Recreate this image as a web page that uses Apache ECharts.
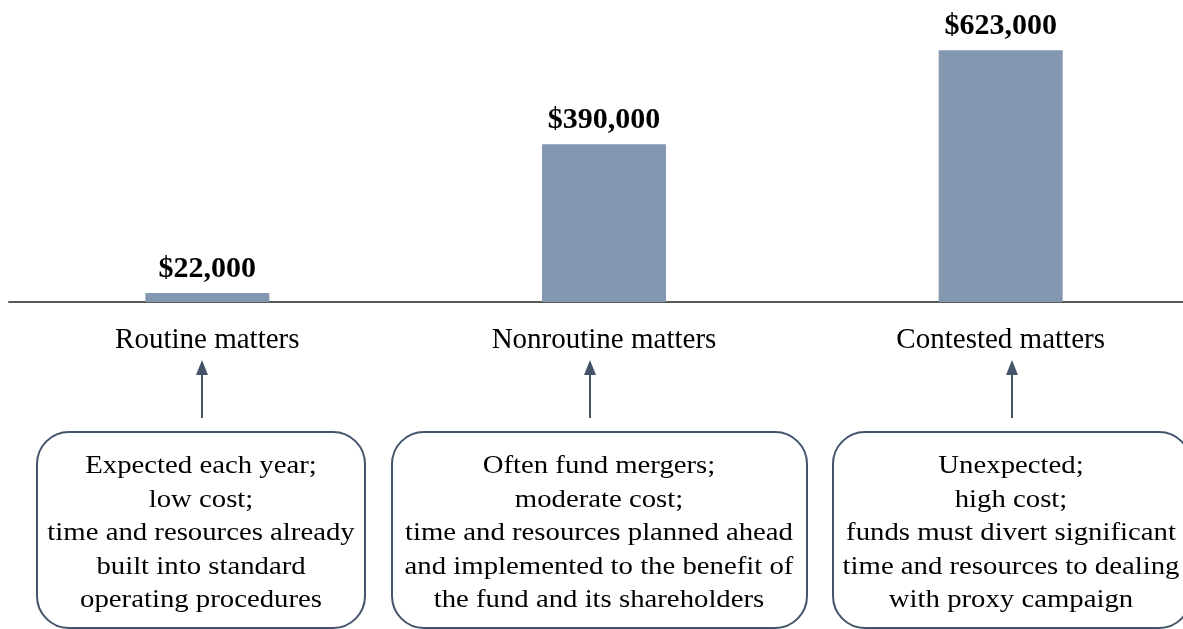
<!DOCTYPE html>
<html>
<head>
<meta charset="utf-8">
<script src="https://cdn.jsdelivr.net/npm/echarts@6/dist/echarts.min.js"></script>
<style>
html,body{margin:0;padding:0;background:#fff;overflow:hidden;}
#main{width:1200px;height:629px;}
</style>
</head>
<body>
<div id="main"></div>
<script>
const categories = ['Routine matters', 'Nonroutine matters', 'Contested matters'];
const costs = [22000, 390000, 623000];
const notes = [
  'Expected each year;\nlow cost;\ntime and resources already\nbuilt into standard\noperating procedures',
  'Often fund mergers;\nmoderate cost;\ntime and resources planned ahead\nand implemented to the benefit of\nthe fund and its shareholders',
  'Unexpected;\nhigh cost;\nfunds must divert significant\ntime and resources to dealing\nwith proxy campaign'
];

const SERIF = '"Liberation Serif", "Times New Roman", serif';
const BAR = '#8497B0';
const DARK = '#44546A';

// annotation layout (decoration)
const boxes = [
  {x: 37, w: 328, cx: 201, ax: 202},
  {x: 392, w: 415, cx: 599, ax: 590},
  {x: 833, w: 358, cx: 1011, ax: 1012}
];

const graphic = [];
boxes.forEach((b, i) => {
  graphic.push({
    type: 'rect', shape: {x: b.x, y: 432, width: b.w, height: 196, r: 32},
    style: {fill: '#fff', stroke: DARK, lineWidth: 2}
  });
  graphic.push({
    type: 'text', x: b.cx, y: 450, scaleX: 1.15,
    style: {text: notes[i], font: '25px ' + SERIF, fill: '#000', align: 'center', verticalAlign: 'top', lineHeight: 33.5}
  });
  graphic.push({
    type: 'line', shape: {x1: b.ax, y1: 418, x2: b.ax, y2: 372},
    style: {stroke: DARK, lineWidth: 2}
  });
  graphic.push({
    type: 'polygon', shape: {points: [[b.ax, 360], [b.ax - 6, 375], [b.ax + 6, 375]]},
    style: {fill: DARK}
  });
});

const chart = echarts.init(document.getElementById('main'));
chart.setOption({
  animation: false,
  backgroundColor: '#fff',
  grid: {left: 9, right: 1, top: 19, bottom: 327},
  xAxis: {
    type: 'category', data: categories,
    axisLine: {lineStyle: {color: '#595959', width: 2}},
    axisTick: {show: false},
    axisLabel: {color: '#000', fontFamily: SERIF, fontSize: 29, margin: 24}
  },
  yAxis: {type: 'value', min: 0, max: 700000, show: false, splitLine: {show: false}},
  series: [{
    type: 'bar', data: costs, barWidth: 124,
    itemStyle: {color: BAR},
    label: {
      show: true, position: 'top', distance: 9,
      fontFamily: SERIF, fontWeight: 'bold', fontSize: 30, color: '#000',
      formatter: p => '$' + p.value.toLocaleString('en-US')
    }
  }],
  graphic: graphic
});
</script>
</body>
</html>
